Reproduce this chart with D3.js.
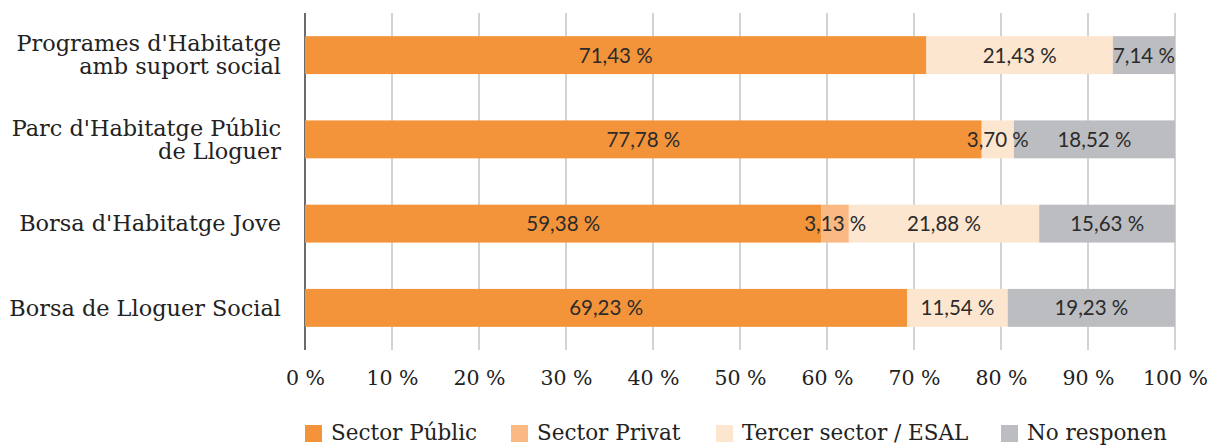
<!DOCTYPE html>
<html>
<head>
<meta charset="utf-8">
<script src="https://cdn.jsdelivr.net/npm/d3@7"></script>
<style>
  body { margin: 0; background: #fff; }
  svg { display: block; }
</style>
</head>
<body>
<div id="chart"></div>
<script>
// categories (top to bottom), each label split into lines
const categories = [
  ["Programes d'Habitatge", 'amb suport social'],
  ["Parc d'Habitatge Públic", 'de Lloguer'],
  ["Borsa d'Habitatge Jove"],
  ['Borsa de Lloguer Social'],
];

const seriesNames = ['Sector Públic', 'Sector Privat', 'Tercer sector / ESAL', 'No responen'];

// values in percent, per category
const sectorPublic = [71.43, 77.78, 59.38, 69.23];
const sectorPrivat = [0, 0, 3.13, 0];
const tercerSector = [21.43, 3.70, 21.88, 11.54];
const noResponen = [7.14, 18.52, 15.63, 19.23];

const tickValues = [0, 10, 20, 30, 40, 50, 60, 70, 80, 90, 100];

const colors = ['#f4943a', '#fab982', '#fde6cf', '#bcbdc0'];

const W = 1209, H = 445;
const margin = { top: 13, right: 34, bottom: 95, left: 305 };
const innerW = W - margin.left - margin.right;
const innerH = H - margin.top - margin.bottom;

const svg = d3.select('#chart').append('svg').attr('width', W).attr('height', H);
const g = svg.append('g').attr('transform', `translate(${margin.left},${margin.top})`);

const x = d3.scaleLinear().domain([0, 100]).range([0, innerW]);
const y = d3.scaleBand().domain(d3.range(categories.length)).range([0, innerH]).paddingInner(0.55).paddingOuter(0.275);

// gridlines
g.selectAll('.grid')
  .data(tickValues)
  .enter()
  .append('line')
  .attr('x1', (d) => x(d))
  .attr('x2', (d) => x(d))
  .attr('y1', 0)
  .attr('y2', innerH)
  .attr('stroke', (d) => (d === 0 ? '#6b6b6b' : '#c4c4c4'))
  .attr('stroke-width', (d) => (d === 0 ? 2 : 1.5));

// stacked rows
const rows = categories.map((c, i) => [sectorPublic[i], sectorPrivat[i], tercerSector[i], noResponen[i]]);
const stacked = d3.stack().keys([0, 1, 2, 3])(rows);

stacked.forEach((layer, k) => {
  g.append('g').selectAll('rect')
    .data(layer)
    .enter()
    .append('rect')
    .attr('x', (d) => x(d[0]))
    .attr('y', (d, i) => y(i))
    .attr('width', (d) => x(d[1]) - x(d[0]))
    .attr('height', y.bandwidth())
    .attr('fill', colors[k]);
});

// value labels on top of all segments
stacked.forEach((layer) => {
  g.append('g').selectAll('text')
    .data(layer.filter((d) => d[1] - d[0] > 0))
    .enter()
    .append('text')
    .attr('x', (d) => x((d[0] + d[1]) / 2))
    .attr('y', (d) => y(rows.indexOf(d.data)) + y.bandwidth() / 2)
    .attr('dy', '0.36em')
    .attr('text-anchor', 'middle')
    .style('font-family', 'Lato, sans-serif')
    .style('font-size', '20.5px')
    .attr('fill', '#2b2b2b')
    .text((d) => `${(d[1] - d[0]).toFixed(2).replace('.', ',')} %`);
});

// category labels
const catG = svg.append('g').attr('transform', `translate(${margin.left - 24},${margin.top})`);
categories.forEach((lines, i) => {
  const cy = y(i) + y.bandwidth() / 2;
  const lh = 23;
  const t = catG.append('text')
    .attr('text-anchor', 'end')
    .style('font-family', "'DejaVu Serif', serif")
    .style('font-size', '22.4px')
    .attr('fill', '#222');
  lines.forEach((ln, j) => {
    t.append('tspan')
      .attr('x', 0)
      .attr('y', cy + (j - (lines.length - 1) / 2) * lh)
      .attr('dy', '0.35em')
      .text(ln);
  });
});

// x axis labels
const xAxis = d3.axisBottom(x).tickValues(tickValues).tickSize(0).tickPadding(20).tickFormat((v) => `${v} %`);
const ax = svg.append('g')
  .attr('transform', `translate(${margin.left},${margin.top + innerH})`)
  .call(xAxis);
ax.select('.domain').remove();
ax.selectAll('text')
  .style('font-family', "'DejaVu Serif', serif")
  .style('font-size', '20.5px')
  .attr('fill', '#222');

// legend
const legendX = [305, 511, 716, 1001];
const lgd = svg.append('g').attr('transform', 'translate(0,431)');
seriesNames.forEach((name, i) => {
  const it = lgd.append('g').attr('transform', `translate(${legendX[i]},0)`);
  it.append('rect').attr('x', 0).attr('y', -6).attr('width', 17).attr('height', 17).attr('fill', colors[i]);
  it.append('text')
    .attr('x', 26)
    .attr('y', 1)
    .attr('dy', '0.35em')
    .style('font-family', "'DejaVu Serif', serif")
    .style('font-size', '21.5px')
    .attr('fill', '#222')
    .text(name);
});
</script>
</body>
</html>
